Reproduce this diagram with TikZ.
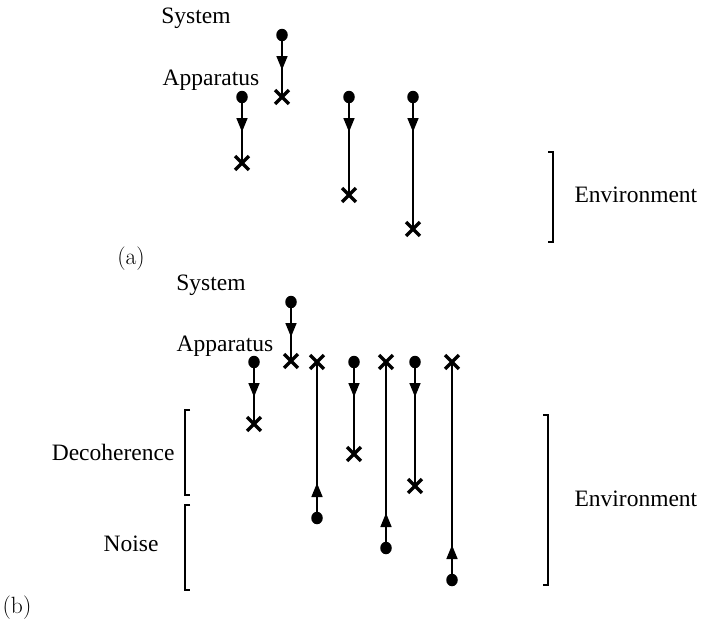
\documentclass[tikz,border=0pt]{standalone}
\usepackage{fontspec}
\newfontfamily\timesfont{Liberation Serif}
\usepackage{tikz}
\usetikzlibrary{arrows.meta, shapes.misc, shapes.geometric, decorations.markings}

\begin{document}
\begin{tikzpicture}[
    x=1pt, y=-1pt,
    source/.style={ellipse, fill=black, inner sep=0pt, minimum width=11.5pt, minimum height=12.5pt},
    detector/.style={cross out, draw=black, line width=3.3pt, inner sep=0pt, minimum size=10.5pt},
    flow/.style={line width=1.6pt, postaction={decorate},
        decoration={markings, mark=at position 35pt with {\arrow{Triangle[length=14pt,width=11pt]}}}},
    word/.style={font=\timesfont\fontsize{23.5}{28}\selectfont},
    panel/.style={font=\fontsize{23.5}{28}\selectfont},
    bracket/.style={line width=1.5pt}
]
\useasboundingbox (0,0) rectangle (704,633);

% (a): one system, one apparatus, environment
\node[word] (sysa) at (196,18) {System};
\node[word] (appa) at (211,80) {Apparatus};
\foreach \x/\ys/\ye/\n in {282/35/97/a1, 242/97/163/a2, 349/97/195/a3, 413/97/229/a4} {
    \node[source] (s\n) at (\x,\ys) {};
    \node[detector] (d\n) at (\x,\ye) {};
    \draw[flow] (s\n.center) -- (d\n.center);
}
\draw[bracket] (548,152) -- (553,152) -- (553,242) -- (548,242);
\node[word, anchor=west] (enva) at (571,195) {Environment};
\node[panel] (pa) at (131,259) {(a)};

% (b): decoherence and noise
\node[word] (sysb) at (211,285) {System};
\node[word] (appb) at (225,346) {Apparatus};
\foreach \x/\ys/\ye/\n in {291/302/361/b1, 254/362/424/b2, 317/518/362/b3, 354/362/454/b4,
                           386/548/362/b5, 415/362/486/b6, 452/580/362/b7} {
    \node[source] (s\n) at (\x,\ys) {};
    \node[detector] (d\n) at (\x,\ye) {};
    \draw[flow] (s\n.center) -- (d\n.center);
}
\draw[bracket] (190,410) -- (185,410) -- (185,495) -- (190,495);
\draw[bracket] (190,505) -- (185,505) -- (185,590) -- (190,590);
\node[word, anchor=east] (deco) at (178,452) {Decoherence};
\node[word, anchor=east] (noise) at (162,544) {Noise};
\draw[bracket] (543,415) -- (548,415) -- (548,585) -- (543,585);
\node[word, anchor=west] (envb) at (571,499) {Environment};
\node[panel] (pb) at (17,608) {(b)};

\end{tikzpicture}
\end{document}
